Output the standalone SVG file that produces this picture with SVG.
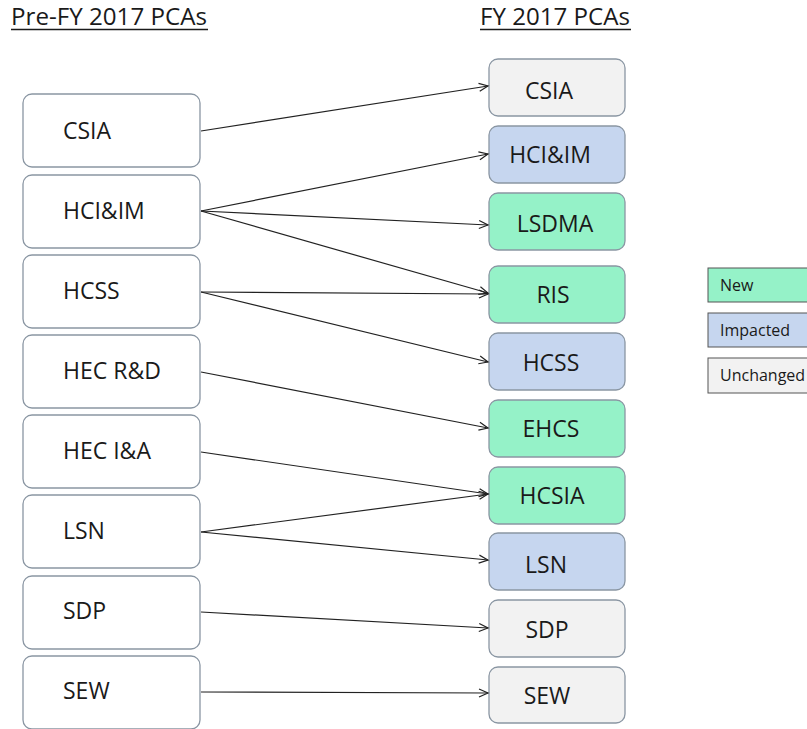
<svg xmlns="http://www.w3.org/2000/svg" width="807" height="729" viewBox="0 0 807 729">
<defs>
<style>
.hdr{font-family:"Open Sans","Liberation Sans",sans-serif;font-size:24px;fill:#1a1a1a}
.ul{stroke:#1a1a1a;stroke-width:1.6}
.lb{fill:#fff;stroke:#8a96a3;stroke-width:1.3}
.rb{stroke:#8a96a3;stroke-width:1.3}
.un{fill:#f2f2f2}
.im{fill:#c6d6ef}
.nw{fill:#95f2c8}
.t{font-family:"Open Sans","Liberation Sans",sans-serif;font-size:23px;fill:#1a1a1a}
.tr{font-family:"Open Sans","Liberation Sans",sans-serif;font-size:23px;fill:#1a1a1a;text-anchor:middle}
.c line{stroke:#222;stroke-width:1.2;marker-end:url(#ah)}
.lg{stroke:#555;stroke-width:1}
.lt{font-family:"Open Sans","Liberation Sans",sans-serif;font-size:16px;fill:#1a1a1a}
</style>
<marker id="ah" markerWidth="12" markerHeight="10" refX="10" refY="5" orient="auto" markerUnits="userSpaceOnUse">
<path d="M1,1 L10,5 L1,9" fill="none" stroke="#222" stroke-width="1.2"/>
</marker>
</defs>
<rect width="807" height="729" fill="#fff"/>
<g id="headers">
<text class="hdr" x="11" y="25" textLength="196" lengthAdjust="spacingAndGlyphs">Pre-FY 2017 PCAs</text>
<line class="ul" x1="11" y1="29.5" x2="208" y2="29.5"/>
<text class="hdr" x="480" y="25" textLength="150" lengthAdjust="spacingAndGlyphs">FY 2017 PCAs</text>
<line class="ul" x1="480" y1="29.5" x2="631" y2="29.5"/>
</g>

<g id="L-CSIA"><rect class="lb" x="23" y="94" width="177" height="73" rx="9"/><text class="t" x="63" y="139">CSIA</text></g>
<g id="L-HCIIM"><rect class="lb" x="23" y="175" width="177" height="73" rx="9"/><text class="t" x="63" y="219">HCI&amp;IM</text></g>
<g id="L-HCSS"><rect class="lb" x="23" y="255" width="177" height="73" rx="9"/><text class="t" x="63" y="299">HCSS</text></g>
<g id="L-HECRD"><rect class="lb" x="23" y="335" width="177" height="73" rx="9"/><text class="t" x="63" y="379">HEC R&amp;D</text></g>
<g id="L-HECIA"><rect class="lb" x="23" y="415" width="177" height="73" rx="9"/><text class="t" x="63" y="459">HEC I&amp;A</text></g>
<g id="L-LSN"><rect class="lb" x="23" y="495" width="177" height="73" rx="9"/><text class="t" x="63" y="539">LSN</text></g>
<g id="L-SDP"><rect class="lb" x="23" y="576" width="177" height="73" rx="9"/><text class="t" x="63" y="619">SDP</text></g>
<g id="L-SEW"><rect class="lb" x="23" y="656" width="177" height="73" rx="9"/><text class="t" x="63" y="699">SEW</text></g>

<g id="R-CSIA"><rect class="rb un" x="489" y="59" width="136" height="57" rx="9"/><text class="tr" x="549" y="99">CSIA</text></g>
<g id="R-HCIIM"><rect class="rb im" x="489" y="126" width="136" height="57" rx="9"/><text class="tr" x="550" y="163">HCI&amp;IM</text></g>
<g id="R-LSDMA"><rect class="rb nw" x="489" y="193" width="136" height="57" rx="9"/><text class="tr" x="555" y="232">LSDMA</text></g>
<g id="R-RIS"><rect class="rb nw" x="489" y="266" width="136" height="57" rx="9"/><text class="tr" x="553" y="303">RIS</text></g>
<g id="R-HCSS"><rect class="rb im" x="489" y="333" width="136" height="57" rx="9"/><text class="tr" x="551" y="371">HCSS</text></g>
<g id="R-EHCS"><rect class="rb nw" x="489" y="400" width="136" height="57" rx="9"/><text class="tr" x="551" y="437">EHCS</text></g>
<g id="R-HCSIA"><rect class="rb nw" x="489" y="467" width="136" height="57" rx="9"/><text class="tr" x="552" y="504">HCSIA</text></g>
<g id="R-LSN"><rect class="rb im" x="489" y="533" width="136" height="57" rx="9"/><text class="tr" x="546" y="573">LSN</text></g>
<g id="R-SDP"><rect class="rb un" x="489" y="600" width="136" height="57" rx="9"/><text class="tr" x="547" y="638">SDP</text></g>
<g id="R-SEW"><rect class="rb un" x="489" y="667" width="136" height="56" rx="9"/><text class="tr" x="547" y="704">SEW</text></g>

<g id="connectors" class="c">
<line x1="201" y1="131" x2="488" y2="86"/>
<line x1="201" y1="211" x2="488" y2="154"/>
<line x1="201" y1="211" x2="488" y2="225"/>
<line x1="201" y1="211" x2="488" y2="293"/>
<line x1="201" y1="292" x2="488" y2="294"/>
<line x1="201" y1="292" x2="488" y2="362"/>
<line x1="201" y1="372" x2="488" y2="428"/>
<line x1="201" y1="452" x2="488" y2="494"/>
<line x1="201" y1="532" x2="488" y2="494"/>
<line x1="201" y1="532" x2="488" y2="560"/>
<line x1="201" y1="612" x2="488" y2="628"/>
<line x1="201" y1="692" x2="488" y2="693"/>
</g>

<g id="legend-new"><rect class="lg nw" x="708" y="268" width="104" height="34"/><text class="lt" x="720" y="291">New</text></g>
<g id="legend-impacted"><rect class="lg im" x="708" y="313" width="104" height="34"/><text class="lt" x="720" y="336">Impacted</text></g>
<g id="legend-unchanged"><rect class="lg un" x="708" y="358" width="104" height="35"/><text class="lt" x="720" y="381">Unchanged</text></g>
</svg>
